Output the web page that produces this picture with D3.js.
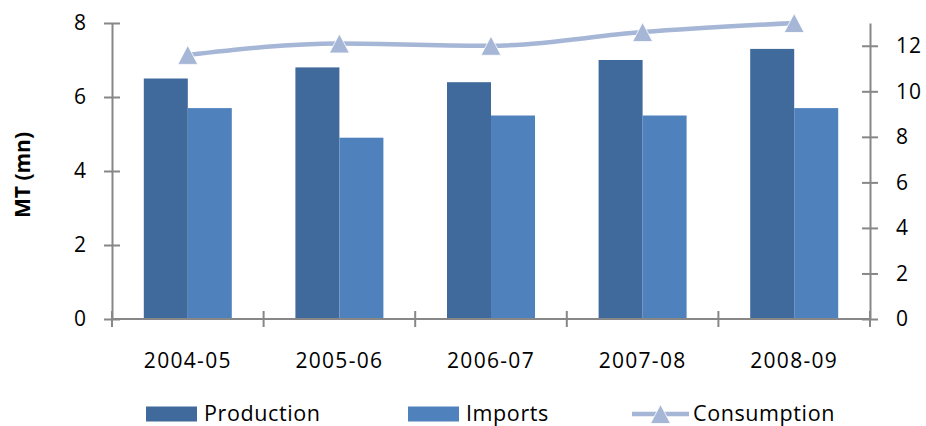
<!DOCTYPE html>
<html>
<head>
<meta charset="utf-8">
<script src="https://cdn.jsdelivr.net/npm/d3@7"></script>
<style>
  html, body { margin: 0; padding: 0; background: #fff; }
  svg { display: block; }
  text { font-family: "Open Sans", sans-serif; fill: #000; }
</style>
</head>
<body>
<svg id="chart" width="926" height="426"></svg>
<script>
// Fiscal years on the category axis
const years = ["2004-05", "2005-06", "2006-07", "2007-08", "2008-09"];
// Bar series (left axis, MT mn)
const production = [6.5, 6.8, 6.4, 7.0, 7.3];
const imports = [5.7, 4.9, 5.5, 5.5, 5.7];
// Line series (right axis)
const consumption = [11.6, 12.1, 12.0, 12.6, 13.0];
// Axis ticks
const leftTicks = [0, 2, 4, 6, 8];
const rightTicks = [0, 2, 4, 6, 8, 10, 12];
const seriesNames = ["Production", "Imports", "Consumption"];

const colors = { Production: "#3F6A9B", Imports: "#4F81BD", Consumption: "#A5B6D6" };
const axisColor = "#878787";

const svg = d3.select("#chart");
const plot = { left: 112, right: 870, top: 23, bottom: 319 };

const x0 = d3.scaleBand().domain(years).range([plot.left, plot.right]).padding(0);
const x1 = d3.scaleBand().domain(["Production", "Imports"]).range([0, x0.bandwidth()])
  .paddingInner(0).paddingOuter(0.7227);
const yL = d3.scaleLinear().domain([0, 8]).range([plot.bottom, plot.top]);
const yR = d3.scaleLinear().domain([0, 13]).range([plot.bottom, plot.top]);

const rows = years.map((y, i) => ({ year: y, Production: production[i], Imports: imports[i], Consumption: consumption[i] }));

// Bars
const groups = svg.append("g").selectAll("g").data(rows).join("g")
  .attr("transform", d => `translate(${x0(d.year)},0)`);
groups.selectAll("rect")
  .data(d => ["Production", "Imports"].map(k => ({ key: k, value: d[k] })))
  .join("rect")
  .attr("x", d => x1(d.key))
  .attr("width", x1.bandwidth())
  .attr("y", d => yL(d.value))
  .attr("height", d => yL(0) - yL(d.value))
  .attr("fill", d => colors[d.key]);

// Left axis
const gL = svg.append("g").attr("transform", `translate(${plot.left},0)`)
  .call(d3.axisLeft(yL).tickValues(leftTicks).tickSize(8).tickPadding(17).tickSizeOuter(0));
gL.selectAll(".tick line").attr("x1", 8);
// Right axis
const gR = svg.append("g").attr("transform", `translate(${plot.right},0)`)
  .call(d3.axisRight(yR).tickValues(rightTicks).tickSize(8).tickPadding(18).tickSizeOuter(0));
gR.selectAll(".tick line").attr("x1", -8);

[gL, gR].forEach(g => {
  g.select(".domain").attr("stroke", axisColor).attr("stroke-width", 2);
  g.selectAll(".tick line").attr("stroke", axisColor).attr("stroke-width", 2);
  g.selectAll(".tick text").attr("font-size", 21).attr("font-family", "Open Sans")
    .attr("letter-spacing", 1).attr("fill", "#000");
});

// Category axis
const gB = svg.append("g");
gB.append("line")
  .attr("x1", plot.left).attr("x2", plot.right)
  .attr("y1", yL(0)).attr("y2", yL(0))
  .attr("stroke", axisColor).attr("stroke-width", 2);
const boundaries = years.map(y => x0(y)).concat([x0(years[years.length - 1]) + x0.bandwidth()]);
gB.selectAll("line.cat").data(boundaries).join("line").attr("class", "cat")
  .attr("x1", d => d).attr("x2", d => d)
  .attr("y1", yL(0) - 8).attr("y2", yL(0) + 8)
  .attr("stroke", axisColor).attr("stroke-width", 2);
gB.selectAll("text").data(years).join("text")
  .attr("x", d => x0(d) + x0.bandwidth() / 2)
  .attr("y", 368)
  .attr("text-anchor", "middle")
  .attr("font-size", 21)
  .attr("letter-spacing", 1.3)
  .text(d => d);

// Left axis title
svg.append("text")
  .attr("transform", "translate(30,175) rotate(-90)")
  .attr("text-anchor", "middle")
  .attr("font-size", 21)
  .attr("font-weight", "bold")
  .text("MT (mn)");

// Consumption line with triangle markers
const line = d3.line()
  .x(d => x0(d.year) + x0.bandwidth() / 2)
  .y(d => yR(d.Consumption))
  .curve(d3.curveMonotoneX);
svg.append("path").datum(rows)
  .attr("d", line)
  .attr("fill", "none")
  .attr("stroke", colors.Consumption)
  .attr("stroke-width", 4.5);

const tri = "M0,-9.5 L10,9.5 L-10,9.5 Z";
svg.append("g").selectAll("path").data(rows).join("path")
  .attr("transform", d => `translate(${x0(d.year) + x0.bandwidth() / 2},${yR(d.Consumption)})`)
  .attr("d", tri)
  .attr("fill", colors.Consumption)
  .attr("stroke", "#fff")
  .attr("stroke-width", 0.8);

// Legend
const legendY = 414;
const legendX = [146, 408, 632];
const leg = svg.append("g");
seriesNames.forEach((name, i) => {
  const g = leg.append("g").attr("transform", `translate(${legendX[i]},${legendY})`);
  if (name === "Consumption") {
    g.append("line").attr("x1", 0).attr("x2", 57).attr("y1", 0).attr("y2", 0)
      .attr("stroke", colors.Consumption).attr("stroke-width", 4.5);
    g.append("path").attr("d", tri).attr("transform", "translate(28.5,0)")
      .attr("fill", colors.Consumption).attr("stroke", "#fff").attr("stroke-width", 0.8);
    g.append("text").attr("x", 61).attr("y", 6.5).attr("font-size", 21.5)
      .attr("letter-spacing", 0.6).text(name);
  } else {
    g.append("rect").attr("x", 0).attr("y", -7.5).attr("width", 51).attr("height", 15)
      .attr("fill", colors[name]);
    g.append("text").attr("x", 58).attr("y", 6.5).attr("font-size", 21.5)
      .attr("letter-spacing", 0.6).text(name);
  }
});
</script>
</body>
</html>
